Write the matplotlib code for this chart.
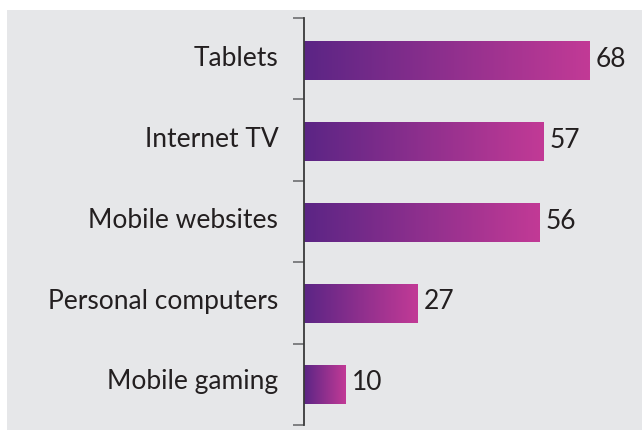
import numpy as np
import matplotlib
matplotlib.use('Agg')
from matplotlib import pyplot as plt
from matplotlib.colors import LinearSegmentedColormap
from matplotlib.patches import Rectangle

#%% Data
categories = ['Tablets', 'Internet TV', 'Mobile websites',
              'Personal computers', 'Mobile gaming']
values = [68, 57, 56, 27, 10]

#%% Style
W, H = 642, 430
BG = '#e6e7e9'
TXT = '#231f20'
FSIZE_LBL = 19
plt.rcParams['font.family'] = ['Lato', 'DejaVu Sans']

grad = LinearSegmentedColormap.from_list('bar', ['#5b2585', '#c23a96'])
ramp = np.linspace(0, 1, 256).reshape(1, -1)

fig = plt.figure(figsize=(W / 100, H / 100), dpi=100)
fig.patch.set_facecolor('white')
# grey panel, white margin on left and top
fig.patches.append(Rectangle((7 / W, 0), 1, 1 - 10 / H,
                             transform=fig.transFigure,
                             facecolor=BG, edgecolor='none', zorder=-10))

ax = fig.add_axes([304 / W, 5 / H, 336 / W, 407 / H])
ax.set_facecolor('none')

n = len(categories)
bar_h = 0.48
y_top, y_bot = -0.532, n - 0.496
for i, v in enumerate(values):
    ax.imshow(ramp, cmap=grad, aspect='auto', interpolation='bilinear',
              extent=(0, v, i + bar_h / 2, i - bar_h / 2))
    ax.text(v + 1.4, i - 0.02, str(v), va='center', ha='left',
            fontsize=FSIZE_LBL, color=TXT)

ax.set_xlim(0, 80)
ax.set_ylim(y_bot, y_top)

for s in ['top', 'right', 'bottom']:
    ax.spines[s].set_visible(False)
ax.spines['left'].set_color('#3a3a3a')
ax.spines['left'].set_linewidth(1.3)
ax.set_xticks([])

# boundary ticks, labels sitting a little above the bar centres
ax.set_yticks(np.linspace(y_top, y_bot, n + 1))
ax.set_yticklabels([])
ax.tick_params(axis='y', which='major', length=8, width=1.2, color='#6d6e70')
ax.set_yticks(np.arange(n) - 0.06, minor=True)
ax.set_yticklabels(categories, minor=True, fontsize=FSIZE_LBL, color=TXT)
ax.tick_params(axis='y', which='minor', length=0, pad=18.5)

fig.savefig('out.png', dpi=100)
